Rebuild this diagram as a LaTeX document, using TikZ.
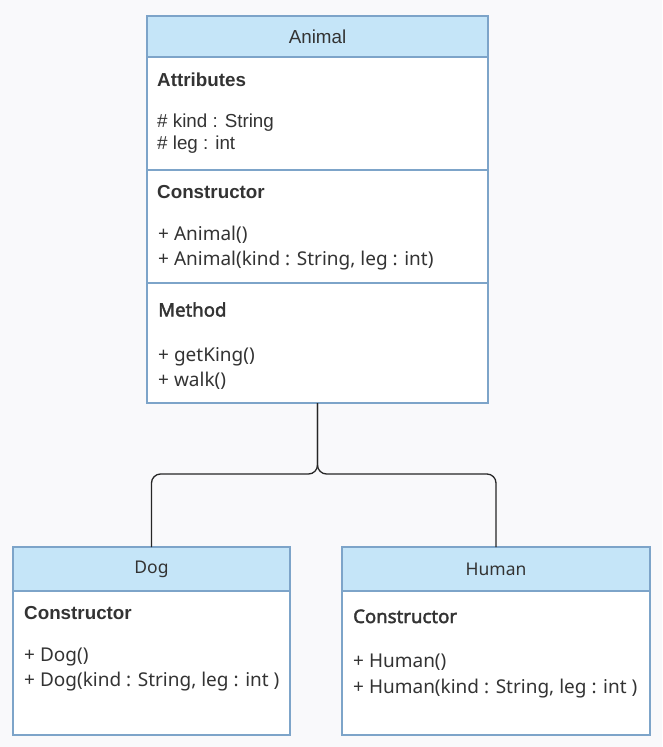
\documentclass[tikz,border=0pt]{standalone}
\usepackage{fontspec}
\setmainfont{Liberation Sans}
\newfontfamily\notofont{Noto Sans}
\newfontfamily\notoboldfont{Noto Sans}[FakeBold=2.2]
\usetikzlibrary{positioning}

\definecolor{umlborder}{HTML}{7DA4C9}
\definecolor{umlhead}{HTML}{C5E5F8}
\definecolor{umltext}{HTML}{333333}
\definecolor{canvas}{HTML}{F9F9FB}

\tikzset{
  classhead/.style={draw=umlborder, fill=umlhead, line width=2pt, outer sep=0pt, inner sep=0pt, text=umltext},
  classpart/.style={draw=umlborder, fill=white, line width=2pt, outer sep=0pt, inner sep=0pt},
  member/.style={anchor=base west, inner sep=0pt, text=umltext},
  arial/.style={font=\fontsize{18.8}{22}\selectfont},
  arialbold/.style={font=\fontsize{18.8}{22}\selectfont\bfseries},
  noto/.style={font=\notofont\fontsize{19}{23}\selectfont},
  notobold/.style={font=\notoboldfont\fontsize{18.6}{22}\selectfont},
  inherit/.style={draw=black!85, line width=1.3pt, rounded corners=9pt}
}

\begin{document}
\begin{tikzpicture}[x=1pt, y=-1pt]
	% Canvas
	\fill[canvas] (0,0) rectangle (662,747);
	\useasboundingbox (0,0) rectangle (662,747);
	% Class Animal
	\node[classhead, minimum width=341pt, minimum height=41pt, arial] (animal) at (317.5,36.5) {Animal};
	\node[classpart, minimum width=341pt, minimum height=113pt, below=0pt of animal] (animal-attr) {};
	\node[classpart, minimum width=341pt, minimum height=113pt, below=0pt of animal-attr] (animal-ctor) {};
	\node[classpart, minimum width=341pt, minimum height=120pt, below=0pt of animal-ctor] (animal-meth) {};
	\node[member, arialbold] (attr-head) at (157,86) {Attributes};
	\node[member, arial] (attr-kind) at (157,127) {\# kind : String};
	\node[member, arial] (attr-leg) at (157,149) {\# leg : int};
	\node[member, arialbold] (ctor-head) at (157,198.5) {Constructor};
	\node[member, noto] (ctor-empty) at (158,240) {+ Animal()};
	\node[member, noto] (ctor-full) at (158,265) {+ Animal(kind : String, leg : int)};
	\node[member, notobold] (meth-head) at (158,316.5) {Method};
	\node[member, noto] (meth-get) at (158,361) {+ getKing()};
	\node[member, noto] (meth-walk) at (158,386) {+ walk()};
	% Class Dog
	\node[classhead, minimum width=277pt, minimum height=44pt, font=\notofont\fontsize{17.5}{21}\selectfont] (dog) at (151.5,569) {Dog};
	\node[classpart, minimum width=277pt, minimum height=144pt, below=0pt of dog] (dog-ctor) {};
	\node[member, arialbold] (dog-head) at (24,619) {Constructor};
	\node[member, noto] (dog-empty) at (24,661) {+ Dog()};
	\node[member, noto] (dog-full) at (24,686) {+ Dog(kind : String, leg : int )};
	% Class Human
	\node[classhead, minimum width=308pt, minimum height=44pt, font=\notofont\fontsize{17.5}{21}\selectfont] (human) at (496,569) {Human};
	\node[classpart, minimum width=308pt, minimum height=144pt, below=0pt of human] (human-ctor) {};
	\node[member, notobold] (human-head) at (353,623) {Constructor};
	\node[member, noto] (human-empty) at (353,667) {+ Human()};
	\node[member, noto] (human-full) at (353,693) {+ Human(kind : String, leg : int )};
	% Inheritance lines
	\coordinate (split) at (317.5,474);
	\draw[inherit] (animal-meth.south) -- (split) -| (dog.north);
	\draw[inherit] (animal-meth.south) -- (split) -| (human.north);
\end{tikzpicture}
\end{document}
